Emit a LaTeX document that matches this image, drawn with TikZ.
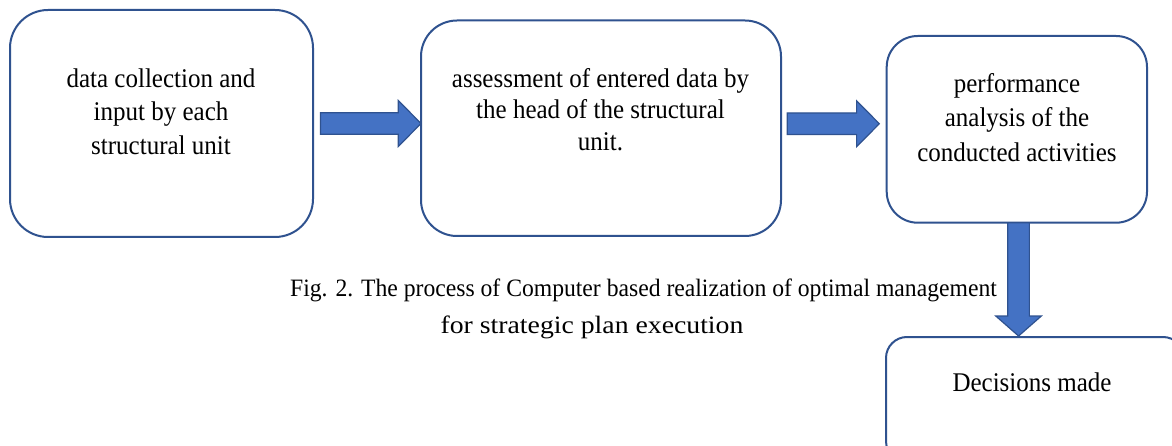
\documentclass[tikz,border=0pt]{standalone}
\usepackage{fontspec}
\setmainfont{Liberation Serif}
\newfontfamily\boxfont[FakeStretch=0.926]{Liberation Serif}
\newfontfamily\capnarrow[FakeStretch=0.946]{Liberation Serif}
\newfontfamily\capwide[FakeStretch=1.11]{Liberation Serif}
\usetikzlibrary{calc}
\definecolor{boxline}{HTML}{2F528F}
\definecolor{arrowfill}{HTML}{4472C4}
\begin{document}
\begin{tikzpicture}[x=1pt,y=-1pt,
  box/.style={draw=boxline, line width=2pt, fill=white, rectangle, inner sep=0pt, outer sep=0pt},
  boxtext/.style={align=center, inner sep=0pt, text=black},
  captext/.style={inner sep=0pt, anchor=base, text=black},
  blockarrow/.style={fill=arrowfill, draw=boxline, line width=1.2pt, line join=miter}]
\useasboundingbox (0,0) rectangle (1172,446);
% boxes
\node[box, rounded corners=38pt, minimum width=303pt, minimum height=227pt] (b1) at (161.5,123.5) {};
\node[box, rounded corners=36pt, minimum width=360pt, minimum height=215.5pt] (b2) at (601,128.25) {};
\node[box, rounded corners=31pt, minimum width=260.3pt, minimum height=186.7pt] (b3) at (1016.85,129.35) {};
\node[box, rounded corners=21pt, minimum width=298pt, minimum height=125pt] (b4) at (1035,399.5) {};
% texts
\node[boxtext, font=\boxfont\fontsize{27}{33.5}\selectfont] (t1) at (161,111.3) {data collection and\\input by each\\structural unit};
\node[boxtext, font=\boxfont\fontsize{27}{31.5}\selectfont] (t2) at (600.5,109.3) {assessment of entered data by\\the head of the structural\\unit.};
\node[boxtext, font=\boxfont\fontsize{27}{34.5}\selectfont] (t3) at (1017,117.3) {performance\\analysis of the\\conducted activities};
\node[boxtext, font=\boxfont\fontsize{27}{30}\selectfont, anchor=base] (t4) at (1032,391) {Decisions made};
% caption
\node[captext, font=\capnarrow\fontsize{25}{33}\selectfont] (c1) at (643.5,297) {Fig. 2. The process of Computer based realization of optimal management};
\node[captext, font=\capwide\fontsize{25}{33}\selectfont] (c2) at (592,333) {for strategic plan execution};
% arrows
\coordinate (a1s) at ($(b1.east)+(7.5,0)$);
\coordinate (a1e) at (b2.west |- a1s);
\draw[blockarrow] ($(a1s)+(0,-10.8)$) -- ($(a1e)+(-22.7,-10.8)$) -- ($(a1e)+(-22.7,-23)$) -- (a1e)
  -- ($(a1e)+(-22.7,23)$) -- ($(a1e)+(-22.7,10.8)$) -- ($(a1s)+(0,10.8)$) -- cycle;
\coordinate (a2s) at ($(b2.east)+(6.3,-4.5)$);
\coordinate (a2e) at ($(b3.west |- a2s)+(-7.4,0)$);
\draw[blockarrow] ($(a2s)+(0,-10.8)$) -- ($(a2e)+(-22.7,-10.8)$) -- ($(a2e)+(-22.7,-23)$) -- (a2e)
  -- ($(a2e)+(-22.7,23)$) -- ($(a2e)+(-22.7,10.8)$) -- ($(a2s)+(0,10.8)$) -- cycle;
\coordinate (a3s) at ($(b3.south)+(1.7,0)$);
\coordinate (a3e) at ($(a3s |- b4.north)+(0,-1)$);
\draw[blockarrow] ($(a3s)+(-10.8,0)$) -- ($(a3e)+(-10.8,-20)$) -- ($(a3e)+(-22.8,-20)$) -- (a3e)
  -- ($(a3e)+(22.8,-20)$) -- ($(a3e)+(10.8,-20)$) -- ($(a3s)+(10.8,0)$) -- cycle;
\end{tikzpicture}
\end{document}
